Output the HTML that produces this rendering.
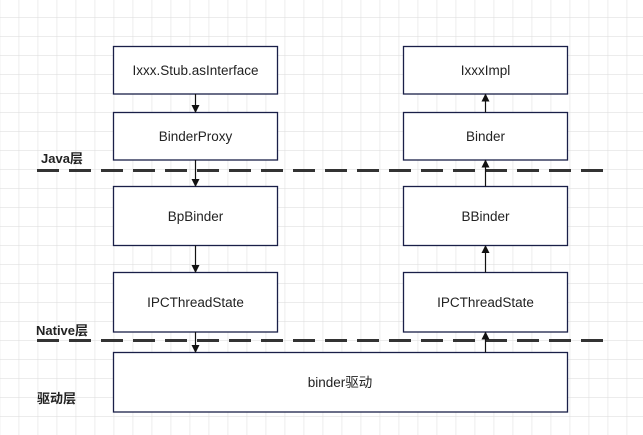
<!DOCTYPE html>
<html><head><meta charset="utf-8"><style>
html,body{margin:0;padding:0;background:#fff;}
</style></head><body>
<svg width="643" height="435" xmlns="http://www.w3.org/2000/svg" style="display:block">
<defs>
<pattern id="g" x="18.7" y="17.5" width="19" height="19" patternUnits="userSpaceOnUse">
<path d="M0 0H19M0 0V19" stroke="#dadada" stroke-width="1" fill="none"/>
</pattern>
<marker id="a" markerWidth="8" markerHeight="8" refX="7" refY="4" orient="auto" markerUnits="userSpaceOnUse">
<path d="M0 0L8 4L0 8z" fill="#111"/>
</marker>
</defs>
<rect width="643" height="435" fill="url(#g)"/>
<g stroke="#333" stroke-width="3" stroke-dasharray="22 10">
<line x1="37" y1="170.5" x2="605" y2="170.5"/>
<line x1="37" y1="340.5" x2="605" y2="340.5"/>
</g>
<g fill="#fff" stroke="#1a1f48" stroke-width="1.3">
<rect x="113.5" y="46.5" width="164" height="47.5"/>
<rect x="113.5" y="112.5" width="164" height="47.5"/>
<rect x="113.5" y="186.5" width="164" height="59"/>
<rect x="113.5" y="272.5" width="164" height="59.5"/>
<rect x="403.5" y="46.5" width="164" height="47.5"/>
<rect x="403.5" y="112.5" width="164" height="47.5"/>
<rect x="403.5" y="186.5" width="164" height="59"/>
<rect x="403.5" y="272.5" width="164" height="59.5"/>
<rect x="113.5" y="352.5" width="454" height="59.5"/>
</g>
<g stroke="#111" stroke-width="1.2" marker-end="url(#a)">
<line x1="195.5" y1="94" x2="195.5" y2="112"/>
<line x1="195.5" y1="160" x2="195.5" y2="186"/>
<line x1="195.5" y1="245.5" x2="195.5" y2="272"/>
<line x1="195.5" y1="332" x2="195.5" y2="352"/>
<line x1="485.5" y1="112.5" x2="485.5" y2="94.5"/>
<line x1="485.5" y1="186.5" x2="485.5" y2="160.5"/>
<line x1="485.5" y1="272.5" x2="485.5" y2="246"/>
<line x1="485.5" y1="352.5" x2="485.5" y2="332.5"/>
</g>
<g font-family="Liberation Sans, Noto Sans CJK SC, sans-serif" font-size="13.5" fill="#222" text-anchor="middle">
<text x="195.5" y="75">Ixxx.Stub.asInterface</text>
<text x="195.5" y="141">BinderProxy</text>
<text x="195.5" y="221">BpBinder</text>
<text x="195.5" y="307">IPCThreadState</text>
<text x="485.5" y="75">IxxxImpl</text>
<text x="485.5" y="141">Binder</text>
<text x="485.5" y="221">BBinder</text>
<text x="485.5" y="307">IPCThreadState</text>
<text x="340" y="387">binder驱动</text>
</g>
<g font-family="Liberation Sans, Noto Sans CJK SC, sans-serif" font-size="13" font-weight="bold" fill="#222">
<text x="41" y="163">Java层</text>
<text x="36" y="335">Native层</text>
<text x="37" y="403">驱动层</text>
</g>
</svg>
</body></html>
